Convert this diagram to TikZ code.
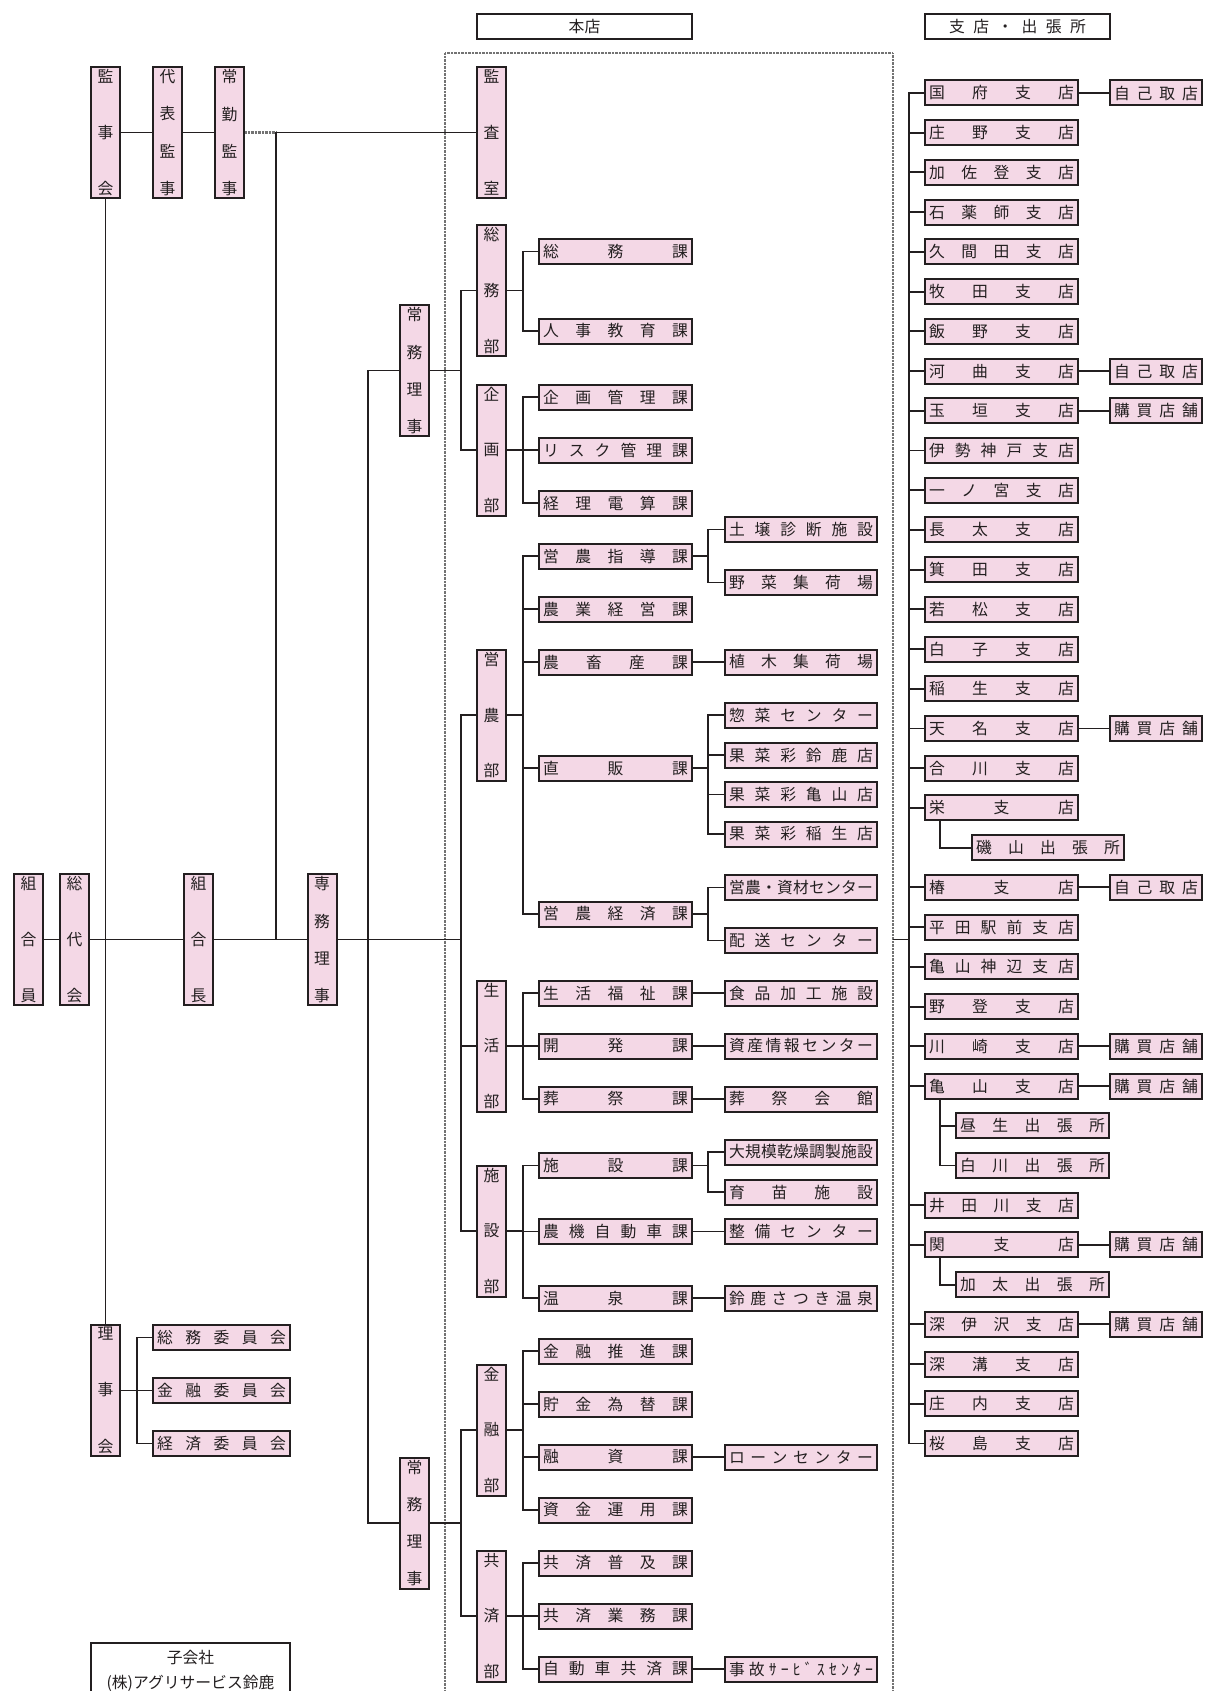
\documentclass[tikz,border=0pt]{standalone}
\usepackage{fontspec}
\setmainfont{Noto Sans CJK JP}
\definecolor{pk}{RGB}{244,216,230}
\definecolor{lc}{RGB}{35,31,32}
\newlength\spw
\def\spreadloop#1{\ifx#1\relax\else#1\expandafter\spreadnext\fi}
\def\spreadnext#1{\ifx#1\relax\else\hfill#1\expandafter\spreadnext\fi}
\def\vsloop#1{\ifx#1\relax\else\hbox to16pt{\hss#1\hss}\expandafter\vsnext\fi}
\def\vsnext#1{\ifx#1\relax\else\vfill\hbox to16pt{\hss#1\hss}\expandafter\vsnext\fi}
\newcommand\spreadtext[2]{\setlength\spw{#1}\hbox to\spw{\spreadloop#2\relax}}
\newcommand\vspreadtext[2]{\setlength\spw{#1}\vbox to\spw{\offinterlineskip\vsloop#2\relax}}
\tikzset{
  boxbase/.style={draw=lc,fill=pk,line width=2pt,inner sep=0pt,text=lc,font=\fontsize{15.8}{18}\selectfont},
  hbx/.style={boxbase,minimum height=25pt},
  vbx/.style={boxbase,minimum width=29pt},
  hdr/.style={draw=lc,fill=white,line width=2pt,inner sep=0pt,minimum height=25pt,text=lc,font=\fontsize{15.8}{18}\selectfont},
  conn/.style={draw=lc,line width=1.9pt},
  grayd/.style={draw=black!55,line width=2.4pt,dash pattern=on 0.8pt off 0.6pt},
}
\newcommand\HB[5]{\node[hbx,minimum width=#4pt-2pt] (#1) at (#2,#3) {\spreadtext{\dimexpr#4pt-10pt\relax}{#5}};}
\newcommand\VB[5]{\node[vbx,minimum height=#4pt-2pt] (#1) at (#2,#3) {\vspreadtext{\dimexpr#4pt-8pt\relax}{#5}};}
\newcommand\BR[3]{\HB{#1}{1001.5}{93+39.72*#2}{155}{#3}}
\newcommand\EX[3]{\HB{#1}{1156}{93+39.72*#2}{94}{#3}}
\begin{document}
\begin{tikzpicture}[x=1pt,y=-1pt]
\useasboundingbox (0,0) rectangle (1205,1691);
\clip (0,0) rectangle (1205,1691);
\fill[white] (0,0) rectangle (1205,1691);
% frame
\draw[grayd] (445,53) rectangle (893,1730);
% headers
\node[hdr,minimum width=215pt] (honten) at (584.5,26.5) {本店};
\node[hdr,minimum width=185pt] (shiten) at (1017.5,26.5) {\spreadtext{137pt}{支店・出張所}};
% left column
\VB{kumiaiin}{28.5}{939.5}{133}{組合員}
\VB{soudai}{74.5}{939.5}{133}{総代会}
\VB{kansakai}{105.5}{132.5}{133}{監事会}
\VB{daihyo}{167.5}{132.5}{133}{代表監事}
\VB{joukin}{229.5}{132.5}{133}{常勤監事}
\VB{kumiaicho}{198.5}{939.5}{133}{組合長}
\VB{senmu}{322}{939.5}{133}{専務理事}
\VB{jomuA}{414.5}{370.5}{133}{常務理事}
\VB{jomuB}{414.5}{1523}{133}{常務理事}
\VB{rijikai}{105.5}{1390.5}{133}{理事会}
\HB{iinA}{221.5}{1337.5}{139}{総務委員会}
\HB{iinB}{221.5}{1390.5}{139}{金融委員会}
\HB{iinC}{221.5}{1443.5}{139}{経済委員会}
\node[hdr,minimum width=199pt,minimum height=56pt,align=center,anchor=north,font=\fontsize{15.8}{25}\selectfont] (kogaisha) at (190.5,1642) {子会社\\(株)アグリサービス鈴鹿};
% departments
\VB{kansa}{491.5}{132.5}{133}{監査室}
\VB{somubu}{491.5}{290.5}{133}{総務部}
\VB{kikakubu}{491.5}{450}{133}{企画部}
\VB{einobu}{491.5}{715}{133}{営農部}
\VB{seikatsubu}{491.5}{1046}{133}{生活部}
\VB{shisetsubu}{491.5}{1231}{133}{施設部}
\VB{kinyubu}{491.5}{1430}{133}{金融部}
\VB{kyosaibu}{491.5}{1616}{133}{共済部}
% sections
\HB{s1}{615.5}{251.5}{155}{総務課}
\HB{s2}{615.5}{331}{155}{人事教育課}
\HB{s3}{615.5}{397}{155}{企画管理課}
\HB{s4}{615.5}{450}{155}{リスク管理課}
\HB{s5}{615.5}{503}{155}{経理電算課}
\HB{s6}{615.5}{556}{155}{営農指導課}
\HB{s7}{615.5}{609}{155}{農業経営課}
\HB{s8}{615.5}{662}{155}{農畜産課}
\HB{s9}{615.5}{768}{155}{直販課}
\HB{s10}{615.5}{914}{155}{営農経済課}
\HB{s11}{615.5}{993}{155}{生活福祉課}
\HB{s12}{615.5}{1046}{155}{開発課}
\HB{s13}{615.5}{1099}{155}{葬祭課}
\HB{s14}{615.5}{1165.5}{155}{施設課}
\HB{s15}{615.5}{1231.5}{155}{農機自動車課}
\HB{s16}{615.5}{1298}{155}{温泉課}
\HB{s17}{615.5}{1351}{155}{金融推進課}
\HB{s18}{615.5}{1404}{155}{貯金為替課}
\HB{s19}{615.5}{1457}{155}{融資課}
\HB{s20}{615.5}{1510}{155}{資金運用課}
\HB{s21}{615.5}{1563}{155}{共済普及課}
\HB{s22}{615.5}{1616}{155}{共済業務課}
\HB{s23}{615.5}{1669}{155}{自動車共済課}
% third level
\HB{t1}{801}{529.5}{154}{土壌診断施設}
\HB{t2}{801}{582.5}{154}{野菜集荷場}
\HB{t3}{801}{662}{154}{植木集荷場}
\HB{t4}{801}{715}{154}{惣菜センター}
\HB{t5}{801}{755}{154}{果菜彩鈴鹿店}
\HB{t6}{801}{794.5}{154}{果菜彩亀山店}
\HB{t7}{801}{834}{154}{果菜彩稲生店}
\HB{t8}{801}{887.5}{154}{営農・資材センター}
\HB{t9}{801}{940.5}{154}{配送センター}
\HB{t10}{801}{993}{154}{食品加工施設}
\HB{t11}{801}{1046}{154}{資産情報センター}
\HB{t12}{801}{1099}{154}{葬祭会館}
\HB{t13}{801}{1152}{154}{大規模乾燥調製施設}
\HB{t14}{801}{1192}{154}{育苗施設}
\HB{t15}{801}{1231.5}{154}{整備センター}
\HB{t16}{801}{1298}{154}{鈴鹿さつき温泉}
\HB{t17}{801}{1457}{154}{ローンセンター}
\HB{t18}{801}{1669}{154}{事故ｻｰﾋﾞｽｾﾝﾀｰ}
% branches
\BR{b0}{0}{国府支店}
\BR{b1}{1}{庄野支店}
\BR{b2}{2}{加佐登支店}
\BR{b3}{3}{石薬師支店}
\BR{b4}{4}{久間田支店}
\BR{b5}{5}{牧田支店}
\BR{b6}{6}{飯野支店}
\BR{b7}{7}{河曲支店}
\BR{b8}{8}{玉垣支店}
\BR{b9}{9}{伊勢神戸支店}
\BR{b10}{10}{一ノ宮支店}
\BR{b11}{11}{長太支店}
\BR{b12}{12}{箕田支店}
\BR{b13}{13}{若松支店}
\BR{b14}{14}{白子支店}
\BR{b15}{15}{稲生支店}
\BR{b16}{16}{天名支店}
\BR{b17}{17}{合川支店}
\BR{b18}{18}{栄支店}
\HB{i19}{1048}{93+39.72*19}{154}{磯山出張所}
\BR{b20}{20}{椿支店}
\BR{b21}{21}{平田駅前支店}
\BR{b22}{22}{亀山神辺支店}
\BR{b23}{23}{野登支店}
\BR{b24}{24}{川崎支店}
\BR{b25}{25}{亀山支店}
\HB{i26}{1032.5}{93+39.72*26}{155}{昼生出張所}
\HB{i27}{1032.5}{93+39.72*27}{155}{白川出張所}
\BR{b28}{28}{井田川支店}
\BR{b29}{29}{関支店}
\HB{i30}{1032.5}{93+39.72*30}{155}{加太出張所}
\BR{b31}{31}{深伊沢支店}
\BR{b32}{32}{深溝支店}
\BR{b33}{33}{庄内支店}
\BR{b34}{34}{桜島支店}
\EX{x0}{0}{自己取店}
\EX{x7}{7}{自己取店}
\EX{x8}{8}{購買店舗}
\EX{x16}{16}{購買店舗}
\EX{x20}{20}{自己取店}
\EX{x24}{24}{購買店舗}
\EX{x25}{25}{購買店舗}
\EX{x29}{29}{購買店舗}
\EX{x31}{31}{購買店舗}
% trunk coordinates
\coordinate (kj) at (276,132.5);
\coordinate (T0) at (368,0);
\coordinate (T1) at (461,0);
\coordinate (T2) at (523,0);
\coordinate (T3) at (708,0);
\coordinate (TB) at (909,0);
\coordinate (TS) at (940,0);
\coordinate (TR) at (137,0);
\coordinate (fr) at (893,939.5);
% connectors left
\draw[conn] (kumiaiin) -- (soudai);
\draw[conn] (soudai) -- (kumiaicho);
\draw[conn] (kumiaicho) -- (senmu);
\draw[conn] (senmu) -- (senmu -| T1);
\draw[conn] (kansakai) -- (daihyo);
\draw[conn] (daihyo) -- (joukin);
\draw[grayd] (joukin) -- (kj);
\draw[conn] (kj) -- (kansa);
\draw[conn] (kj) -- (kj |- senmu);
\draw[conn] (kansakai) -- (rijikai);
\draw[conn] (rijikai) -- (rijikai -| TR);
\draw[conn] (iinA.west) -- (iinA.west -| TR) -- (iinC.west -| TR) -- (iinC.west);
\draw[conn] (iinB.west) -- (iinB.west -| TR);
\draw[conn] (jomuA) -- (jomuA -| T0) -- (jomuB -| T0) -- (jomuB);
\draw[conn] (jomuA) -- (jomuA -| T1);
\draw[conn] (jomuB) -- (jomuB -| T1);
% departments trunks
\draw[conn] (somubu.west) -- (somubu.west -| T1) -- (kikakubu.west -| T1) -- (kikakubu.west);
\draw[conn] (einobu.west) -- (einobu.west -| T1) -- (shisetsubu.west -| T1) -- (shisetsubu.west);
\draw[conn] (seikatsubu.west) -- (seikatsubu.west -| T1);
\draw[conn] (kinyubu.west) -- (kinyubu.west -| T1) -- (kyosaibu.west -| T1) -- (kyosaibu.west);
% sections trunks
\draw[conn] (somubu) -- (somubu -| T2);
\draw[conn] (s1.west) -- (s1.west -| T2) -- (s2.west -| T2) -- (s2.west);
\draw[conn] (kikakubu) -- (kikakubu -| T2);
\draw[conn] (s3.west) -- (s3.west -| T2) -- (s5.west -| T2) -- (s5.west);
\draw[conn] (s4.west) -- (s4.west -| T2);
\draw[conn] (einobu) -- (einobu -| T2);
\draw[conn] (s6.west) -- (s6.west -| T2) -- (s10.west -| T2) -- (s10.west);
\draw[conn] (s7.west) -- (s7.west -| T2);
\draw[conn] (s8.west) -- (s8.west -| T2);
\draw[conn] (s9.west) -- (s9.west -| T2);
\draw[conn] (seikatsubu) -- (seikatsubu -| T2);
\draw[conn] (s11.west) -- (s11.west -| T2) -- (s13.west -| T2) -- (s13.west);
\draw[conn] (s12.west) -- (s12.west -| T2);
\draw[conn] (shisetsubu) -- (shisetsubu -| T2);
\draw[conn] (s14.west) -- (s14.west -| T2) -- (s16.west -| T2) -- (s16.west);
\draw[conn] (s15.west) -- (s15.west -| T2);
\draw[conn] (kinyubu) -- (kinyubu -| T2);
\draw[conn] (s17.west) -- (s17.west -| T2) -- (s20.west -| T2) -- (s20.west);
\draw[conn] (s18.west) -- (s18.west -| T2);
\draw[conn] (s19.west) -- (s19.west -| T2);
\draw[conn] (kyosaibu) -- (kyosaibu -| T2);
\draw[conn] (s21.west) -- (s21.west -| T2) -- (s23.west -| T2) -- (s23.west);
\draw[conn] (s22.west) -- (s22.west -| T2);
% third level
\draw[conn] (s6) -- (s6 -| T3);
\draw[conn] (t1.west) -- (t1.west -| T3) -- (t2.west -| T3) -- (t2.west);
\draw[conn] (s8) -- (t3);
\draw[conn] (s9) -- (s9 -| T3);
\draw[conn] (t4.west) -- (t4.west -| T3) -- (t7.west -| T3) -- (t7.west);
\draw[conn] (t5.west) -- (t5.west -| T3);
\draw[conn] (t6.west) -- (t6.west -| T3);
\draw[conn] (s10) -- (s10 -| T3);
\draw[conn] (t8.west) -- (t8.west -| T3) -- (t9.west -| T3) -- (t9.west);
\draw[conn] (s11) -- (t10);
\draw[conn] (s12) -- (t11);
\draw[conn] (s13) -- (t12);
\draw[conn] (s14) -- (s14 -| T3);
\draw[conn] (t13.west) -- (t13.west -| T3) -- (t14.west -| T3) -- (t14.west);
\draw[conn] (s15) -- (t15);
\draw[conn] (s16) -- (t16);
\draw[conn] (s19) -- (t17);
\draw[conn] (s23) -- (t18);
% branches
\draw[conn] (fr) -- (fr -| TB);
\draw[conn] (b0.west) -- (b0.west -| TB) -- (b34.west -| TB) -- (b34.west);
\foreach \b in {b1,b2,b3,b4,b5,b6,b7,b8,b9,b10,b11,b12,b13,b14,b15,b16,b17,b18,b20,b21,b22,b23,b24,b25,b28,b29,b31,b32,b33}
  {\draw[conn] (\b.west) -- (\b.west -| TB);}
\draw[conn] (b18.south -| TS) |- (i19.west);
\draw[conn] (b25.south -| TS) |- (i27.west);
\draw[conn] (i26.west -| TS) -- (i26.west);
\draw[conn] (b29.south -| TS) |- (i30.west);
\draw[conn] (b0) -- (x0);
\draw[conn] (b7) -- (x7);
\draw[conn] (b8) -- (x8);
\draw[conn] (b16) -- (x16);
\draw[conn] (b20) -- (x20);
\draw[conn] (b24) -- (x24);
\draw[conn] (b25) -- (x25);
\draw[conn] (b29) -- (x29);
\draw[conn] (b31) -- (x31);
\end{tikzpicture}
\end{document}
